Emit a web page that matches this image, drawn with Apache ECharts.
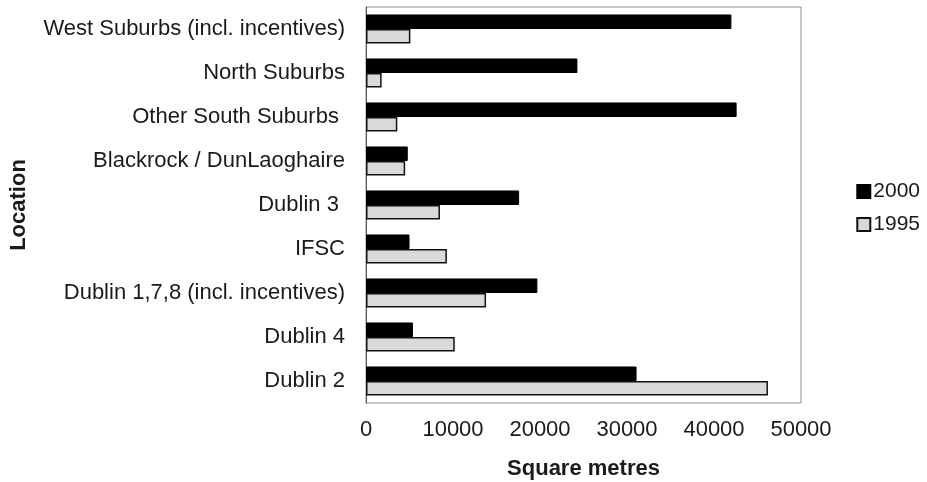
<!DOCTYPE html>
<html>
<head>
<meta charset="utf-8">
<script src="https://cdn.jsdelivr.net/npm/echarts@6/dist/echarts.min.js"></script>
<style>
  html, body { margin: 0; padding: 0; background: #fff; }
  #chart { width: 927px; height: 482px; }
</style>
</head>
<body>
<div id="chart"></div>
<script>
// Office floor space by location (square metres), top to bottom
const locations = [
  'West Suburbs (incl. incentives)',
  'North Suburbs',
  'Other South Suburbs ',
  'Blackrock / DunLaoghaire',
  'Dublin 3 ',
  'IFSC',
  'Dublin 1,7,8 (incl. incentives)',
  'Dublin 4',
  'Dublin 2'
];
const values2000 = [42000, 24300, 42600, 4800, 17600, 5000, 19700, 5400, 31100];
const values1995 = [5100, 1800, 3600, 4500, 8500, 9300, 13800, 10200, 46200];
const xTicks = { min: 0, max: 50000, interval: 10000 };

const FONT = '"Liberation Sans", Arial, sans-serif';
const TEXT = '#1a1a1a';
const chart = echarts.init(document.getElementById('chart'));

chart.setOption({
  animation: false,
  textStyle: { fontFamily: FONT, color: TEXT },
  grid: {
    left: 366, right: 126, top: 7, bottom: 79,
    containLabel: false,
    outerBoundsMode: 'none',
    show: true,
    borderColor: '#8c8c8c',
    borderWidth: 1
  },
  legend: {
    orient: 'vertical',
    right: 2,
    top: 176,
    icon: 'rect',
    itemWidth: 13,
    itemHeight: 13,
    itemGap: 12,
    textStyle: { fontFamily: FONT, fontSize: 21, color: TEXT, padding: [0, 0, 0, -2] },
    data: ['2000', '1995']
  },
  xAxis: {
    type: 'value',
    min: xTicks.min,
    max: xTicks.max,
    interval: xTicks.interval,
    splitLine: { show: false },
    axisLine: { show: false },
    axisTick: { show: false },
    axisLabel: {
      fontSize: 22, color: TEXT, margin: 16, fontFamily: FONT,
      formatter: (v) => String(v)
    },
    name: 'Square metres',
    nameLocation: 'middle',
    nameGap: 55,
    nameTextStyle: { fontSize: 22, fontWeight: 'bold', color: TEXT, fontFamily: FONT }
  },
  yAxis: {
    type: 'category',
    inverse: true,
    data: locations,
    axisLine: { show: true, lineStyle: { color: '#555', width: 1 } },
    axisTick: { show: false },
    axisLabel: { fontSize: 22, color: TEXT, margin: 21, fontFamily: FONT },
    name: 'Location',
    nameLocation: 'middle',
    nameGap: 336,
    nameTextStyle: { fontSize: 22, fontWeight: 'bold', color: TEXT, fontFamily: FONT }
  },
  series: [
    {
      name: '2000',
      type: 'bar',
      data: values2000,
      barGap: '0%',
      barCategoryGap: '34%',
      itemStyle: { color: '#000', borderColor: '#000', borderWidth: 1 }
    },
    {
      name: '1995',
      type: 'bar',
      data: values1995,
      barGap: '0%',
      barCategoryGap: '34%',
      itemStyle: { color: '#d9d9d9', borderColor: '#111', borderWidth: 1.5 }
    }
  ]
});
</script>
</body>
</html>
